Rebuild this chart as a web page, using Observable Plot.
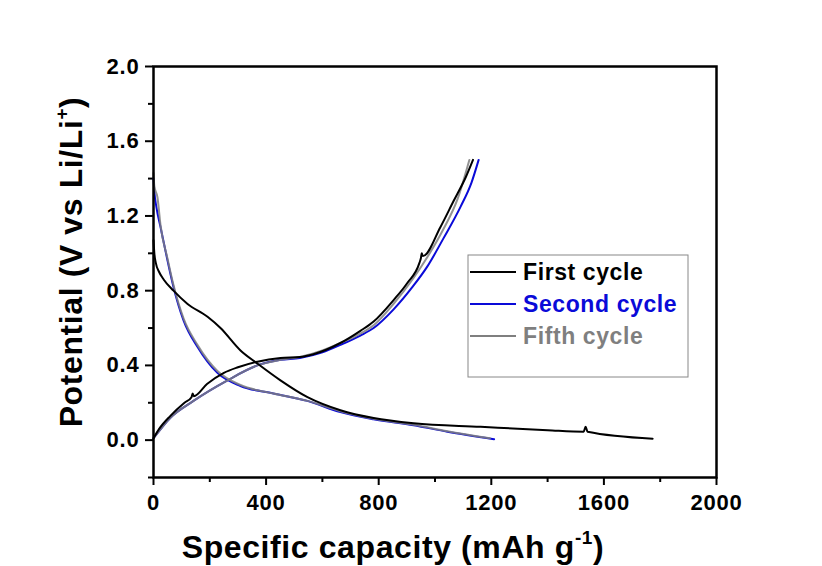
<!DOCTYPE html>
<html>
<head>
<meta charset="utf-8">
<script src="https://cdn.jsdelivr.net/npm/d3@7"></script>
<script src="https://cdn.jsdelivr.net/npm/@observablehq/plot@0.6"></script>
<style>
  html, body { margin: 0; padding: 0; background: #fff; }
  #chart { width: 822px; height: 566px; overflow: hidden; }
</style>
</head>
<body>
<div id="chart"></div>
<script>
// ---- data (capacity mAh/g, potential V) ----
const firstDischarge = [[0,1.07],[3,1.0],[8,0.95],[20,0.90],[36,0.86],[71,0.80],[120,0.73],[192,0.66],[238,0.60],[309,0.48],[369,0.41],[451,0.32],[547,0.23],[664,0.16],[782,0.118],[924,0.09],[1162,0.071],[1400,0.053],[1528,0.045],[1535,0.072],[1542,0.045],[1773,0.008]];
const firstCharge = [[0,0.01],[20,0.06],[60,0.13],[110,0.20],[135,0.23],[139,0.25],[143,0.235],[190,0.30],[250,0.36],[300,0.39],[369,0.42],[451,0.44],[520,0.445],[568,0.46],[664,0.52],[735,0.585],[782,0.635],[853,0.75],[901,0.84],[945,0.95],[950,0.975],[953,1.0],[957,0.985],[1019,1.14],[1066,1.28],[1110,1.41],[1135,1.50]];
const secondDischarge = [[0,1.40],[3,1.33],[10,1.25],[25,1.14],[50,0.96],[71,0.82],[107,0.64],[156,0.50],[227,0.36],[309,0.29],[426,0.25],[547,0.21],[664,0.15],[782,0.112],[924,0.08],[1044,0.045],[1210,0.005]];
const secondCharge = [[0,0.01],[60,0.12],[142,0.21],[263,0.32],[369,0.40],[451,0.43],[520,0.44],[600,0.47],[664,0.51],[735,0.56],[782,0.60],[853,0.70],[920,0.82],[973,0.93],[1030,1.08],[1091,1.25],[1130,1.38],[1155,1.50]];
const fifthDischarge = [[0,1.43],[3,1.36],[14,1.30],[25,1.15],[50,0.97],[71,0.83],[107,0.65],[156,0.51],[227,0.37],[309,0.295],[426,0.25],[547,0.21],[664,0.155],[782,0.115],[924,0.082],[1044,0.048],[1195,0.01]];
const fifthCharge = [[0,0.01],[60,0.12],[142,0.21],[263,0.32],[369,0.40],[451,0.43],[520,0.445],[600,0.48],[664,0.52],[735,0.57],[782,0.615],[853,0.73],[920,0.86],[973,0.98],[1030,1.13],[1080,1.29],[1122,1.50]];

const cycles = ["First cycle", "Second cycle", "Fifth cycle"];
const cycleColors = ["#000000", "#0a0ad8", "#7f7f7f"];
const xTicks = [0, 400, 800, 1200, 1600, 2000];
const xMinor = [200, 600, 1000, 1400, 1800];
const yTicks = [0.0, 0.4, 0.8, 1.2, 1.6, 2.0];
const yMinor = [-0.2, 0.2, 0.6, 1.0, 1.4, 1.8];

// build table for the library
const segs = [
  ["First cycle", "d", firstDischarge], ["First cycle", "c", firstCharge],
  ["Second cycle", "d", secondDischarge], ["Second cycle", "c", secondCharge],
  ["Fifth cycle", "d", fifthDischarge], ["Fifth cycle", "c", fifthCharge]
];
const rows = [];
for (const [cyc, br, pts] of segs) for (const [x, y] of pts) rows.push({cyc, key: cyc + br, x, y});

const font = "'Liberation Sans', Arial, sans-serif";

const plot = Plot.plot({
  width: 822,
  height: 566,
  marginLeft: 153,
  marginRight: 106,
  marginTop: 66,
  marginBottom: 89,
  style: {fontFamily: font, fontWeight: "bold", fontSize: "22px", color: "#000", background: "#fff", letterSpacing: "0.8px"},
  x: {domain: [0, 2000]},
  y: {domain: [-0.2, 2.0]},
  color: {domain: cycles, range: cycleColors},
  marks: [
    Plot.axisX({ticks: xMinor, tickSize: 5, tickFormat: () => "", strokeWidth: 2, label: null}),
    Plot.axisX({ticks: xTicks, tickSize: 8, tickPadding: 9, strokeWidth: 2, tickFormat: d => String(d), label: null}),
    Plot.axisY({ticks: yMinor, tickSize: 5, tickFormat: () => "", strokeWidth: 2, label: null}),
    Plot.axisY({ticks: yTicks, tickSize: 8, tickPadding: 6, strokeWidth: 2, tickFormat: d => d.toFixed(1), label: null}),
    Plot.line(rows.filter(r => r.cyc === "Second cycle"), {x: "x", y: "y", z: "key", stroke: "cyc", strokeWidth: 2, curve: "monotone-x"}),
    Plot.line(rows.filter(r => r.cyc === "Fifth cycle"), {x: "x", y: "y", z: "key", stroke: "cyc", strokeWidth: 2, strokeOpacity: 0.85, curve: "monotone-x"}),
    Plot.line(rows.filter(r => r.cyc === "First cycle"), {x: "x", y: "y", z: "key", stroke: "cyc", strokeWidth: 2, curve: "monotone-x"}),
    Plot.frame({stroke: "#000", strokeWidth: 2.5})
  ]
});

document.getElementById("chart").appendChild(plot);

const svg = d3.select(plot);

// axis titles with superscripts
const xt = svg.append("text")
  .attr("x", 393).attr("y", 558)
  .attr("text-anchor", "middle")
  .style("font-family", font).style("font-weight", "bold").style("font-size", "32px").style("letter-spacing", "0.6px")
  .attr("fill", "#000");
xt.append("tspan").text("Specific capacity (mAh g");
xt.append("tspan").attr("dy", -14).style("font-size", "19px").text("-1");
xt.append("tspan").attr("dy", 14).text(")");

const yt = svg.append("text")
  .attr("transform", "translate(82,262) rotate(-90)")
  .attr("text-anchor", "middle")
  .style("font-family", font).style("font-weight", "bold").style("font-size", "32px").style("letter-spacing", "0.6px")
  .attr("fill", "#000");
yt.append("tspan").text("Potential (V vs Li/Li");
yt.append("tspan").attr("dy", -14).style("font-size", "19px").text("+");
yt.append("tspan").attr("dy", 14).text(")");

// legend
const lg = svg.append("g");
lg.append("rect").attr("x", 468).attr("y", 255).attr("width", 220).attr("height", 122)
  .attr("fill", "#fff").attr("stroke", "#888").attr("stroke-width", 1);
cycles.forEach((c, i) => {
  const y = 272 + i * 32;
  lg.append("line").attr("x1", 470).attr("x2", 516).attr("y1", y).attr("y2", y)
    .attr("stroke", cycleColors[i]).attr("stroke-width", 2);
  lg.append("text").attr("x", 523).attr("y", y + 8)
    .attr("text-anchor", "start")
    .style("font-family", font).style("font-weight", "bold").style("font-size", "23px").style("letter-spacing", "0.6px")
    .attr("fill", cycleColors[i]).text(c);
});
</script>
</body>
</html>
